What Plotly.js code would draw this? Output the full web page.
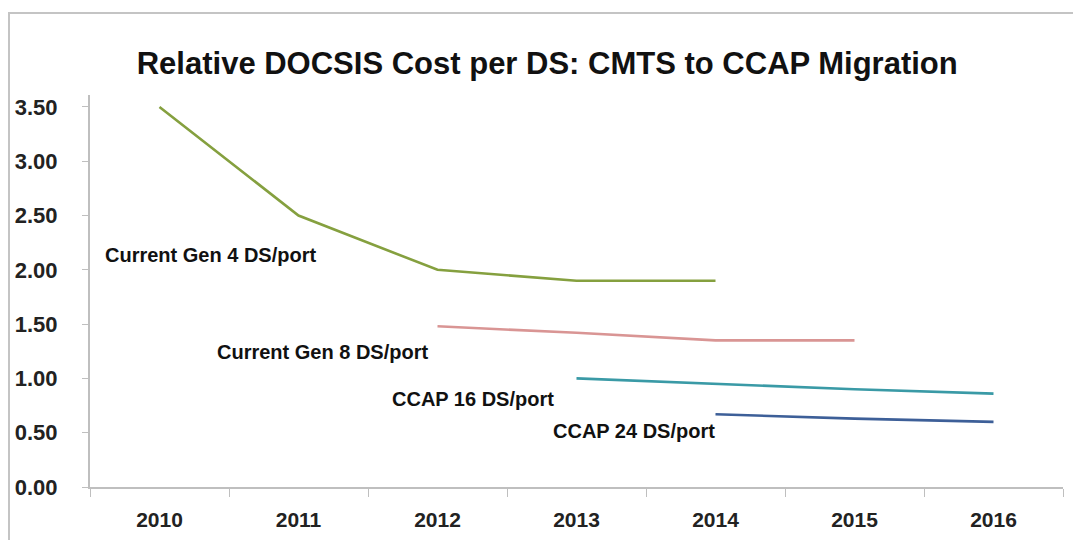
<!DOCTYPE html>
<html>
<head>
<meta charset="utf-8">
<script src="https://cdn.plot.ly/plotly-3.0.1.min.js"></script>
<style>
  html, body { margin: 0; padding: 0; background: #fff; }
  #wrap { position: relative; width: 1073px; height: 540px; overflow: hidden; }
  #chart { position: absolute; left: 0; top: 0; width: 1073px; height: 540px; }
  #frame { position: absolute; left: 8px; top: 12px; width: 1100px; height: 540px;
           border-left: 2px solid #c4c4c4; border-top: 2px solid #c4c4c4; pointer-events: none; }
</style>
</head>
<body>
<div id="wrap">
  <div id="chart"></div>
  <div id="frame"></div>
</div>
<script>
const years = ['2010', '2011', '2012', '2013', '2014', '2015', '2016'];

const gen4Years = ['2010', '2011', '2012', '2013', '2014'];
const gen4Values = [3.50, 2.50, 2.00, 1.90, 1.90];

const gen8Years = ['2012', '2013', '2014', '2015'];
const gen8Values = [1.48, 1.42, 1.35, 1.35];

const ccap16Years = ['2013', '2014', '2015', '2016'];
const ccap16Values = [1.00, 0.95, 0.90, 0.86];

const ccap24Years = ['2014', '2015', '2016'];
const ccap24Values = [0.67, 0.63, 0.60];

const seriesNames = ['Current Gen 4 DS/port', 'Current Gen 8 DS/port', 'CCAP 16 DS/port', 'CCAP 24 DS/port'];
const yTicks = [0, 0.5, 1, 1.5, 2, 2.5, 3, 3.5];
const yTickText = ['0.00', '0.50', '1.00', '1.50', '2.00', '2.50', '3.00', '3.50'];

function line(x, y, color, name) {
  return { type: 'scatter', mode: 'lines', x: x, y: y, name: name,
           line: { color: color, width: 2.6 }, hoverinfo: 'x+y' };
}

const data = [
  line(gen4Years, gen4Values, '#85a03f', seriesNames[0]),
  line(gen8Years, gen8Values, '#d99594', seriesNames[1]),
  line(ccap16Years, ccap16Values, '#3a9aa6', seriesNames[2]),
  line(ccap24Years, ccap24Values, '#3d5f98', seriesNames[3])
];

const labelFont = { family: 'Liberation Sans, Arial, sans-serif', size: 20, color: '#111', weight: 'bold' };
function label(text, px, py) {
  return { text: '<b>' + text + '</b>', xref: 'paper', yref: 'paper', x: px, y: py,
           xanchor: 'left', yanchor: 'middle', showarrow: false, font: labelFont };
}

const layout = {
  width: 1073, height: 540,
  margin: { l: 90, r: 10, t: 95, b: 53 },
  paper_bgcolor: '#ffffff', plot_bgcolor: '#ffffff',
  showlegend: false,
  title: {
    text: '<b>Relative DOCSIS Cost per DS: CMTS to CCAP Migration</b>',
    font: { family: 'Liberation Sans, Arial, sans-serif', size: 31, color: '#111' },
    x: 0.51, xanchor: 'center', xref: 'container',
    y: 0.883, yanchor: 'middle', yref: 'container'
  },
  xaxis: {
    type: 'category', categoryorder: 'array', categoryarray: years,
    range: [-0.5, 6.5], tickson: 'boundaries',
    showline: true, linecolor: '#bfbfbf', linewidth: 2,
    ticks: 'outside', ticklen: 8, tickcolor: '#bfbfbf', tickwidth: 1,
    showgrid: false, zeroline: false,
    ticklabelstandoff: 13,
    tickfont: { family: 'Liberation Sans, Arial, sans-serif', size: 21, color: '#222', weight: 'bold' }
  },
  yaxis: {
    range: [0, 3.61], tickvals: yTicks, ticktext: yTickText,
    showline: true, linecolor: '#bfbfbf', linewidth: 2,
    ticks: 'outside', ticklen: 6, tickcolor: '#bfbfbf', tickwidth: 1,
    showgrid: false, zeroline: false,
    ticklabelstandoff: 20,
    tickfont: { family: 'Liberation Sans, Arial, sans-serif', size: 22, color: '#222', weight: 'bold' }
  },
  annotations: [
    label(seriesNames[0], 0.0134, 0.592),
    label(seriesNames[1], 0.128, 0.344),
    label(seriesNames[2], 0.308, 0.2245),
    label(seriesNames[3], 0.474, 0.143)
  ]
};

Plotly.newPlot('chart', data, layout, { displayModeBar: false, staticPlot: true });
</script>
</body>
</html>
